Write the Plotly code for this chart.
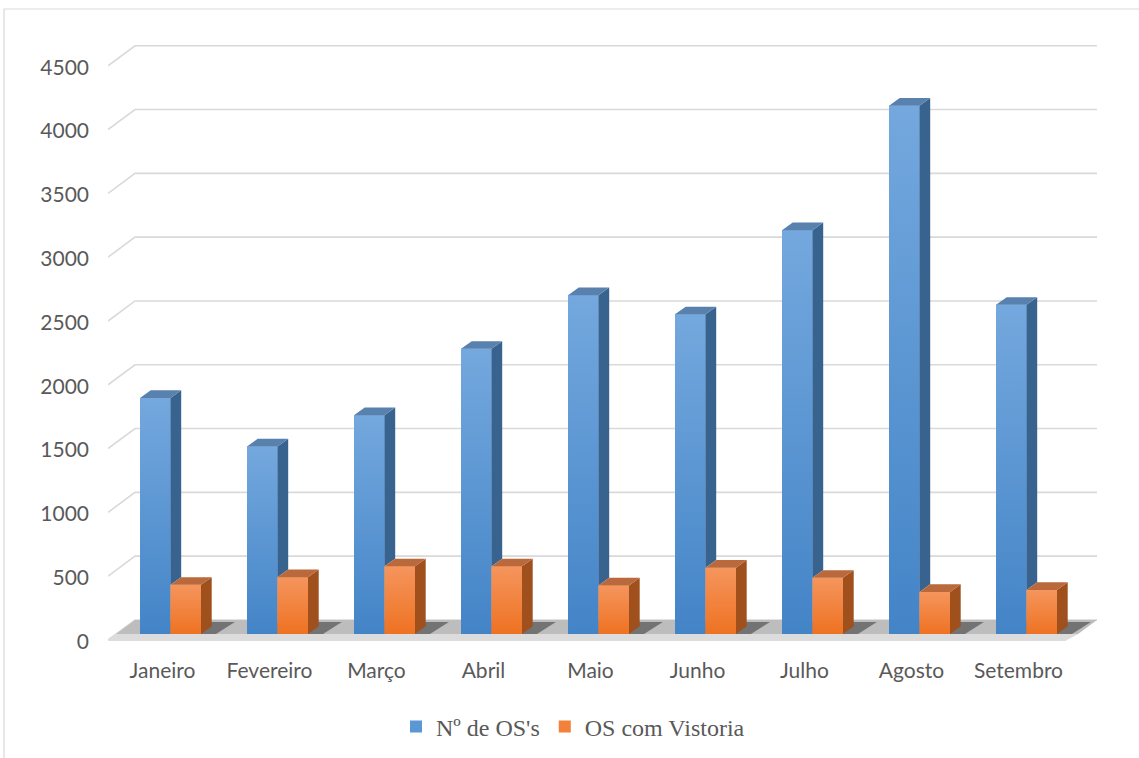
import plotly.graph_objects as go

# ---- data -------------------------------------------------------------
months = ["Janeiro", "Fevereiro", "Março", "Abril", "Maio",
          "Junho", "Julho", "Agosto", "Setembro"]
os_total = [1850, 1470, 1715, 2235, 2655, 2505, 3165, 4140, 2580]
os_vistoria = [385, 445, 530, 530, 380, 520, 440, 330, 345]
y_ticks = [0, 500, 1000, 1500, 2000, 2500, 3000, 3500, 4000, 4500]
series_names = ["Nº de OS's", "OS com Vistoria"]

# ---- geometry of the pseudo-3D frame -----------------------------------
W, H = 1139, 758
ML, MR, MT, MB = 108, 42, 30, 102
X0_PX, X_STEP = 170.5, 107.0     # pixel of first category, category spacing
Y0_PX, Y_SCALE = 634.0, 0.1276   # pixel of zero on bar front plane, px per unit

x_range = [(ML - X0_PX) / X_STEP, (W - MR - X0_PX) / X_STEP]
y_range = [-(H - MB - Y0_PX) / Y_SCALE, (Y0_PX - MT) / Y_SCALE]

BAR_W = 0.285                 # width of a single bar (category units)
DX, DY = 0.10, 60.0           # bar depth offset (x units, value units)
WALL_DX = 27.0 / X_STEP       # full floor depth in x units
FRONT_DY, BACK_DY = -47.0, 110.0   # front / back planes relative to bars
LABEL_DY = -58.0              # value-axis labels on the front plane
CAT_SHIFT = -0.075            # category labels sit on the front plane

plot_w = W - ML - MR
plot_h = H - MT - MB


def paper_x(px):
    return (px - ML) / plot_w


def paper_y(py):
    return (H - MB - py) / plot_h


def path(points):
    return "M " + " L ".join(f"{x},{y}" for x, y in points) + " Z"


GRID = "#d9d9d9"
TEXT = "#595959"
BLUE_FRONT, BLUE_SIDE, BLUE_TOP = "#5b97d4", "#39638f", "#5881ae"
BLUE_HI, BLUE_LO = "#74a8de", "#4384c7"
ORNG_FRONT, ORNG_SIDE, ORNG_TOP = "#f28139", "#9f501d", "#b9693b"
ORNG_HI, ORNG_LO = "#f5955d", "#ee7222"

shapes = []

# chart border (left and top edges)
shapes.append(dict(type="rect", xref="paper", yref="paper",
                   x0=paper_x(4), x1=paper_x(W + 20),
                   y0=paper_y(H + 20), y1=paper_y(9),
                   line=dict(color=GRID, width=1.2), layer="below"))

# back-wall gridlines with their short diagonal on the side wall
xl_front = x_range[0]
xl_back = x_range[0] + WALL_DX
for v in y_ticks:
    shapes.append(dict(type="path", xref="x", yref="y",
                       path=f"M {xl_front},{v + FRONT_DY} L {xl_back},{v + BACK_DY} "
                            f"L {x_range[1]},{v + BACK_DY}",
                       line=dict(color=GRID, width=1.6), layer="below"))

# floor slab
frac0 = -FRONT_DY / (BACK_DY - FRONT_DY)
floor_l = xl_front + frac0 * WALL_DX
floor_r = x_range[1] - (1 - frac0) * WALL_DX
shapes.append(dict(type="path", xref="x", yref="y",
                   path=path([(xl_front, FRONT_DY - 8), (floor_r - 0.12, FRONT_DY - 8),
                              (floor_r, 0), (floor_l, 0)]),
                   fillcolor="#dcdcdc", line=dict(width=0), layer="below"))
shapes.append(dict(type="path", xref="x", yref="y",
                   path=path([(floor_l, 0), (floor_r, 0),
                              (x_range[1], BACK_DY), (xl_back, BACK_DY)]),
                   fillcolor="#bdbdbd", line=dict(width=0), layer="below"))

# soft shadows cast by each pair of bars onto the floor
for i in range(len(months)):
    xl = i - BAR_W + 0.02
    xr = i + BAR_W + 0.14
    shapes.append(dict(type="path", xref="x", yref="y",
                       path=path([(xl, 0), (xr, 0),
                                  (xr + 0.7 * WALL_DX, BACK_DY * 0.85),
                                  (xl + 0.7 * WALL_DX, BACK_DY * 0.85)]),
                       fillcolor="rgba(55,55,55,0.55)", line=dict(width=0),
                       layer="below"))

fig = go.Figure()
cats = list(range(len(months)))

# front faces of the bars
fig.add_trace(go.Bar(x=cats, y=os_total, name=series_names[0],
                     marker=dict(color=BLUE_FRONT, line=dict(width=0)),
                     hoverinfo="skip"))
fig.add_trace(go.Bar(x=cats, y=os_vistoria, name=series_names[1],
                     marker=dict(color=ORNG_FRONT, line=dict(width=0)),
                     hoverinfo="skip"))


def shade_fronts(left_edges, tops, lo, hi):
    # vertical light-to-dark shading on each bar's front face
    for x0, v in zip(left_edges, tops):
        x1 = x0 + BAR_W
        fig.add_trace(go.Scatter(
            x=[x0, x1, x1, x0, x0], y=[0, 0, v, v, 0],
            mode="lines", fill="toself", line=dict(width=0, color=lo),
            fillgradient=dict(type="vertical", colorscale=[[0, lo], [1, hi]],
                              start=0, stop=v),
            showlegend=False, hoverinfo="skip"))


def faces(left_edges, tops, bases):
    side_x, side_y, top_x, top_y = [], [], [], []
    for x0, v, b in zip(left_edges, tops, bases):
        x1 = x0 + BAR_W
        side_x += [x1, x1 + DX, x1 + DX, x1, x1, None]
        side_y += [b, b + DY, v + DY, v, b, None]
        top_x += [x0, x1, x1 + DX, x0 + DX, x0, None]
        top_y += [v, v, v + DY, v + DY, v, None]
    return side_x, side_y, top_x, top_y


blue_left = [i - BAR_W for i in cats]
orng_left = [i for i in cats]

shade_fronts(blue_left, os_total, BLUE_LO, BLUE_HI)
shade_fronts(orng_left, os_vistoria, ORNG_LO, ORNG_HI)

# blue side faces are hidden below the orange bar tops
bsx, bsy, btx, bty = faces(blue_left, os_total, os_vistoria)
osx, osy, otx, oty = faces(orng_left, os_vistoria, [0] * len(months))

for xs, ys, col in [(bsx, bsy, BLUE_SIDE), (btx, bty, BLUE_TOP),
                    (osx, osy, ORNG_SIDE), (otx, oty, ORNG_TOP)]:
    fig.add_trace(go.Scatter(x=xs, y=ys, mode="lines", fill="toself",
                             fillcolor=col, line=dict(width=0, color=col),
                             showlegend=False, hoverinfo="skip"))

fig.update_layout(
    width=W, height=H,
    margin=dict(l=ML, r=MR, t=MT, b=MB, autoexpand=False),
    paper_bgcolor="white", plot_bgcolor="rgba(0,0,0,0)",
    barmode="group", bargap=1 - 2 * BAR_W, bargroupgap=0,
    shapes=shapes,
    showlegend=True,
    legend=dict(orientation="h", xref="container", yref="container",
                x=396 / W, xanchor="left", y=1 - 727 / H, yanchor="middle",
                font=dict(family="Liberation Serif", size=24, color=TEXT),
                bgcolor="rgba(0,0,0,0)", itemclick=False, itemdoubleclick=False),
    font=dict(family="Lato", size=21, color=TEXT),
)
fig.update_xaxes(range=x_range, showgrid=False, zeroline=False, showline=False,
                 automargin=False, tickmode="array",
                 tickvals=[i + CAT_SHIFT for i in cats],
                 ticktext=months, ticks="", tickfont=dict(size=21, color=TEXT))
fig.update_yaxes(range=y_range, showgrid=False, zeroline=False, showline=False,
                 automargin=False, tickmode="array",
                 tickvals=[v + LABEL_DY for v in y_ticks],
                 ticktext=[str(v) for v in y_ticks], ticks="",
                 ticklabelstandoff=18, tickfont=dict(size=21, color=TEXT))

fig.write_html("out.html")
